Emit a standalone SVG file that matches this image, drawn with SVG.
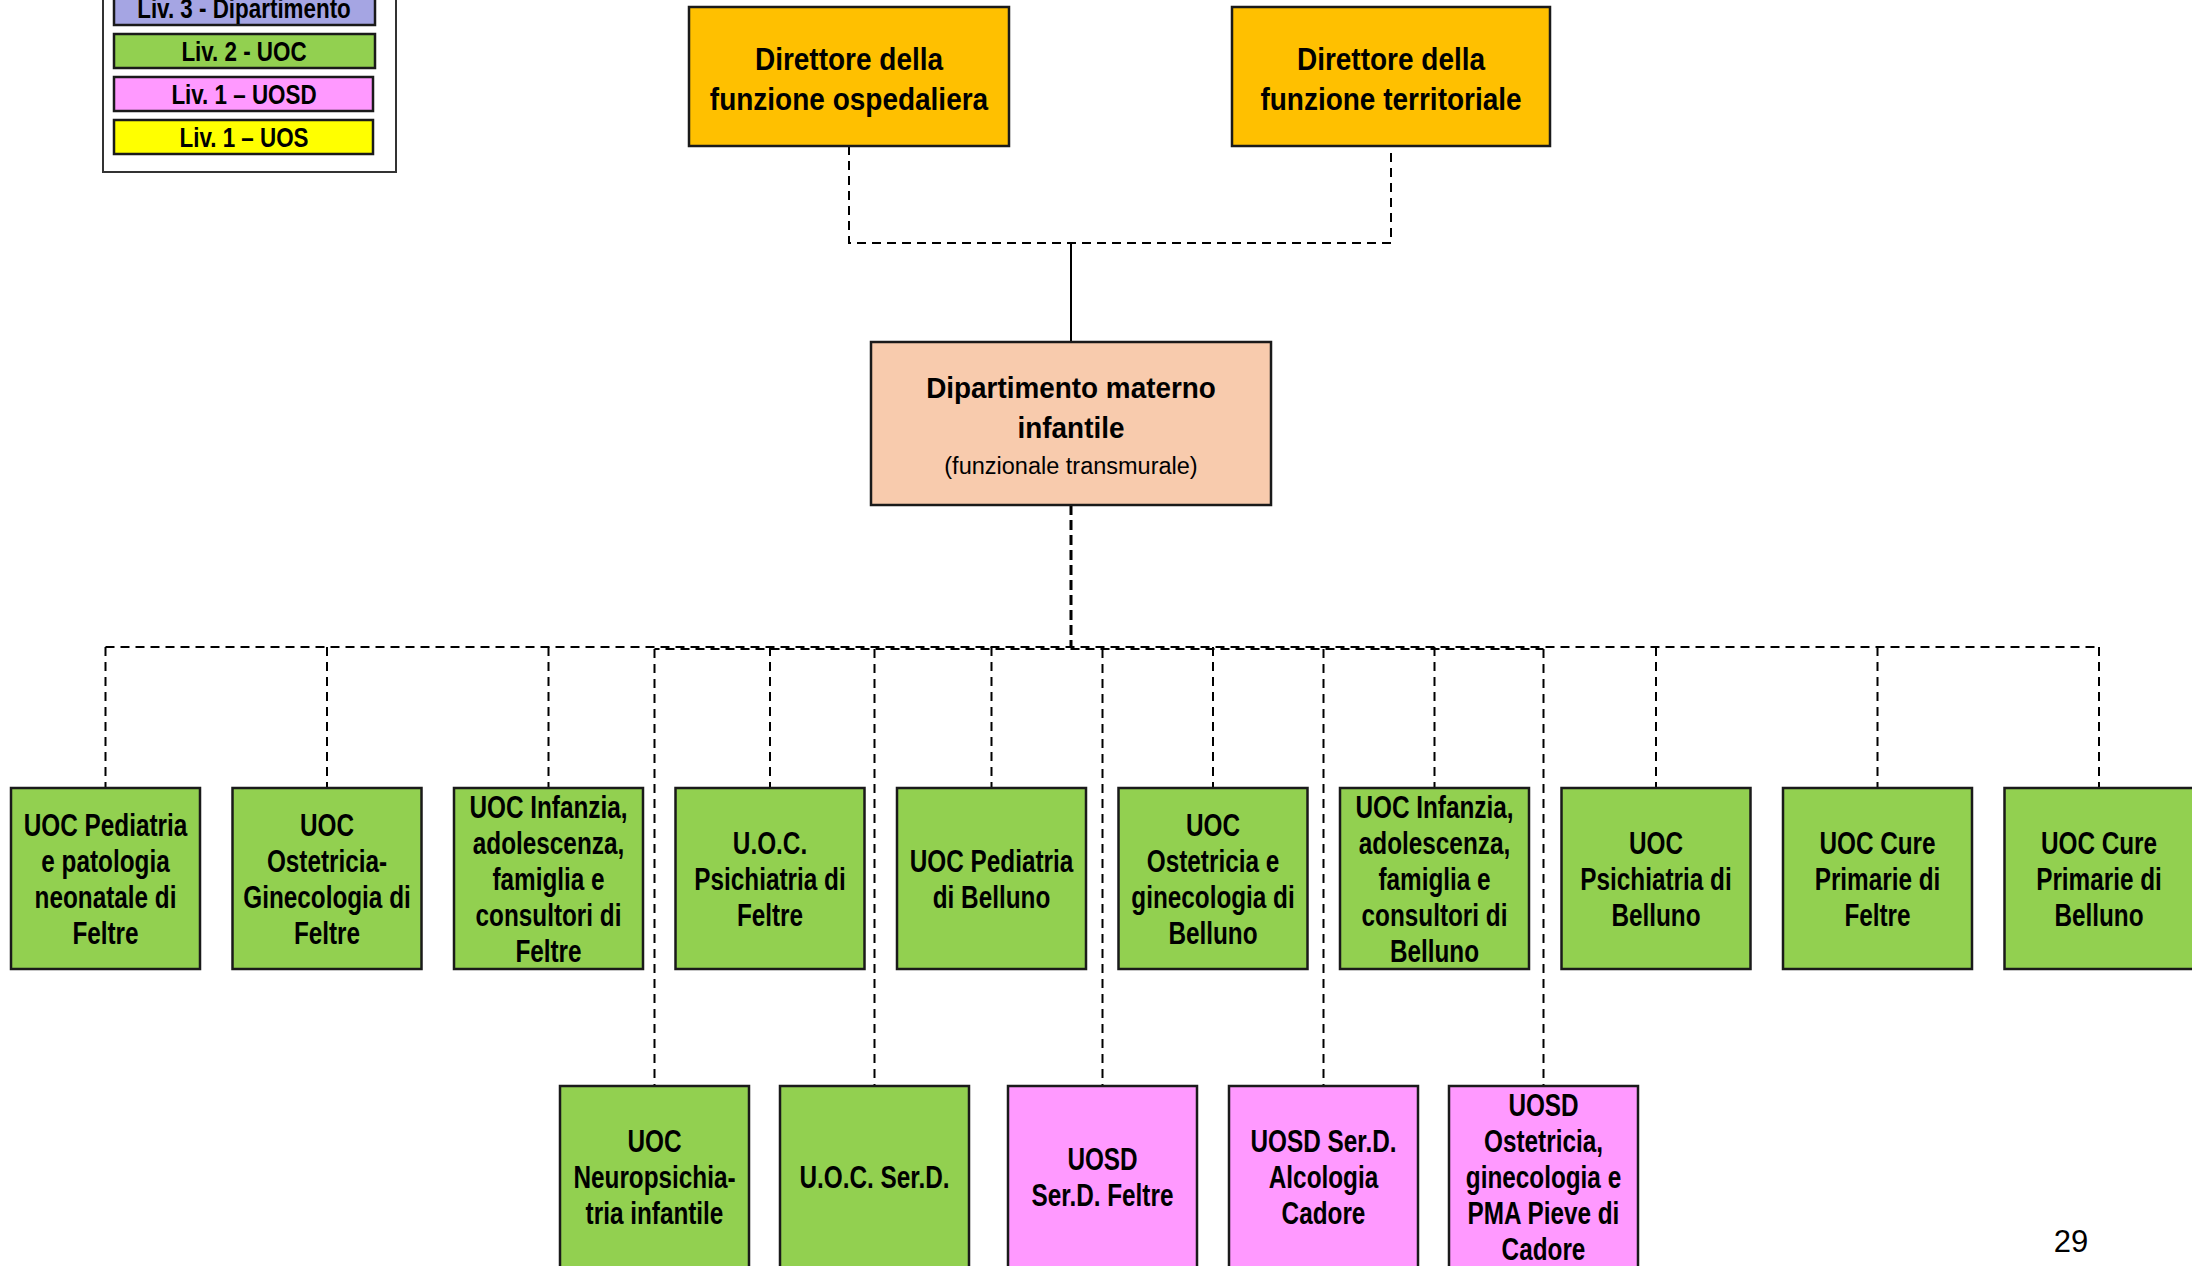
<svg xmlns="http://www.w3.org/2000/svg" width="2192" height="1266" viewBox="0 0 2192 1266">
<style>
.box{stroke:#1a1a1a;stroke-width:2.5}
.org{fill:#ffc000}
.dep{fill:#f8cbad}
.uoc{fill:#92d050}
.uosd{fill:#ff99ff}
.uos{fill:#ffff00}
.liv3{fill:#a5a5e3}
.t{font-family:"Liberation Sans",Arial,sans-serif;font-weight:bold;font-size:32px;fill:#000;text-anchor:middle}
.lg{font-family:"Liberation Sans",Arial,sans-serif;font-weight:bold;font-size:28px;fill:#000;text-anchor:middle}
.sub{font-family:"Liberation Sans",Arial,sans-serif;font-size:23.5px;fill:#000;text-anchor:middle}
.dash{fill:none;stroke:#000;stroke-width:2;stroke-dasharray:9 6}
.solid{fill:none;stroke:#000;stroke-width:2}
</style>
<rect width="2192" height="1266" fill="#fff"/>

<g id="legend">
<rect x="103" y="-30" width="293" height="202" fill="#fff" stroke="#333" stroke-width="2"/>
<rect class="box liv3" x="114" y="-9" width="261" height="34"/>
<text class="lg" transform="translate(244 0) scale(0.8 1)"><tspan x="0" y="18">Liv. 3 - Dipartimento</tspan></text>
<rect class="box uoc" x="114" y="34" width="261" height="34"/>
<text class="lg" transform="translate(244 0) scale(0.8 1)"><tspan x="0" y="61">Liv. 2 - UOC</tspan></text>
<rect class="box uosd" x="114" y="77" width="259" height="34"/>
<text class="lg" transform="translate(244 0) scale(0.8 1)"><tspan x="0" y="104">Liv. 1 – UOSD</tspan></text>
<rect class="box uos" x="114" y="120" width="259" height="34"/>
<text class="lg" transform="translate(244 0) scale(0.8 1)"><tspan x="0" y="147">Liv. 1 – UOS</tspan></text>
</g>

<g id="connectors">
<polyline class="dash" points="849,146 849,243 1391,243 1391,146"/>
<line class="solid" x1="1071" y1="243" x2="1071" y2="342"/>
<line class="dash" x1="1071" y1="505" x2="1071" y2="648" style="stroke-width:3;stroke-dasharray:10 5"/>
<line class="dash" x1="105.5" y1="647" x2="2099" y2="647"/>
<line class="dash" x1="654.5" y1="649" x2="1543.5" y2="649" style="stroke-dashoffset:4"/>
<line class="dash" x1="105.5" y1="647" x2="105.5" y2="788"/>
<line class="dash" x1="327" y1="647" x2="327" y2="788"/>
<line class="dash" x1="548.5" y1="647" x2="548.5" y2="788"/>
<line class="dash" x1="770" y1="647" x2="770" y2="788"/>
<line class="dash" x1="991.5" y1="647" x2="991.5" y2="788"/>
<line class="dash" x1="1213" y1="647" x2="1213" y2="788"/>
<line class="dash" x1="1434.5" y1="647" x2="1434.5" y2="788"/>
<line class="dash" x1="1656" y1="647" x2="1656" y2="788"/>
<line class="dash" x1="1877.5" y1="647" x2="1877.5" y2="788"/>
<line class="dash" x1="2099" y1="647" x2="2099" y2="788"/>
<line class="dash" x1="654.5" y1="649" x2="654.5" y2="1086"/>
<line class="dash" x1="874.5" y1="649" x2="874.5" y2="1086"/>
<line class="dash" x1="1102.5" y1="649" x2="1102.5" y2="1086"/>
<line class="dash" x1="1323.5" y1="649" x2="1323.5" y2="1086"/>
<line class="dash" x1="1543.5" y1="649" x2="1543.5" y2="1086"/>
</g>

<g id="dir-ospedaliera">
<rect class="box org" x="689" y="7" width="320" height="139"/>
<text class="t" transform="translate(849 0) scale(0.875 1)"><tspan x="0" y="70">Direttore della</tspan><tspan x="0" y="110">funzione ospedaliera</tspan></text>
</g>
<g id="dir-territoriale">
<rect class="box org" x="1232" y="7" width="318" height="139"/>
<text class="t" transform="translate(1391 0) scale(0.875 1)"><tspan x="0" y="70">Direttore della</tspan><tspan x="0" y="110">funzione territoriale</tspan></text>
</g>
<g id="dipartimento">
<rect class="box dep" x="871" y="342" width="400" height="163"/>
<text class="t" style="font-size:30px" transform="translate(1071 0) scale(0.93 1)"><tspan x="0" y="398">Dipartimento materno</tspan><tspan x="0" y="438">infantile</tspan></text>
<text class="sub" x="1071" y="474">(funzionale transmurale)</text>
</g>

<g id="u1">
<rect class="box uoc" x="11" y="788" width="189" height="181"/>
<text class="t" transform="translate(105.5 0) scale(0.76 1)"><tspan x="0" y="836">UOC Pediatria</tspan><tspan x="0" y="872">e patologia</tspan><tspan x="0" y="908">neonatale di</tspan><tspan x="0" y="944">Feltre</tspan></text>
</g>
<g id="u2">
<rect class="box uoc" x="232.5" y="788" width="189" height="181"/>
<text class="t" transform="translate(327 0) scale(0.76 1)"><tspan x="0" y="836">UOC</tspan><tspan x="0" y="872">Ostetricia-</tspan><tspan x="0" y="908">Ginecologia di</tspan><tspan x="0" y="944">Feltre</tspan></text>
</g>
<g id="u3">
<rect class="box uoc" x="454" y="788" width="189" height="181"/>
<text class="t" transform="translate(548.5 0) scale(0.76 1)"><tspan x="0" y="818">UOC Infanzia,</tspan><tspan x="0" y="854">adolescenza,</tspan><tspan x="0" y="890">famiglia e</tspan><tspan x="0" y="926">consultori di</tspan><tspan x="0" y="962">Feltre</tspan></text>
</g>
<g id="u4">
<rect class="box uoc" x="675.5" y="788" width="189" height="181"/>
<text class="t" transform="translate(770 0) scale(0.76 1)"><tspan x="0" y="854">U.O.C.</tspan><tspan x="0" y="890">Psichiatria di</tspan><tspan x="0" y="926">Feltre</tspan></text>
</g>
<g id="u5">
<rect class="box uoc" x="897" y="788" width="189" height="181"/>
<text class="t" transform="translate(991.5 0) scale(0.76 1)"><tspan x="0" y="872">UOC Pediatria</tspan><tspan x="0" y="908">di Belluno</tspan></text>
</g>
<g id="u6">
<rect class="box uoc" x="1118.5" y="788" width="189" height="181"/>
<text class="t" transform="translate(1213 0) scale(0.76 1)"><tspan x="0" y="836">UOC</tspan><tspan x="0" y="872">Ostetricia e</tspan><tspan x="0" y="908">ginecologia di</tspan><tspan x="0" y="944">Belluno</tspan></text>
</g>
<g id="u7">
<rect class="box uoc" x="1340" y="788" width="189" height="181"/>
<text class="t" transform="translate(1434.5 0) scale(0.76 1)"><tspan x="0" y="818">UOC Infanzia,</tspan><tspan x="0" y="854">adolescenza,</tspan><tspan x="0" y="890">famiglia e</tspan><tspan x="0" y="926">consultori di</tspan><tspan x="0" y="962">Belluno</tspan></text>
</g>
<g id="u8">
<rect class="box uoc" x="1561.5" y="788" width="189" height="181"/>
<text class="t" transform="translate(1656 0) scale(0.76 1)"><tspan x="0" y="854">UOC</tspan><tspan x="0" y="890">Psichiatria di</tspan><tspan x="0" y="926">Belluno</tspan></text>
</g>
<g id="u9">
<rect class="box uoc" x="1783" y="788" width="189" height="181"/>
<text class="t" transform="translate(1877.5 0) scale(0.76 1)"><tspan x="0" y="854">UOC Cure</tspan><tspan x="0" y="890">Primarie di</tspan><tspan x="0" y="926">Feltre</tspan></text>
</g>
<g id="u10">
<rect class="box uoc" x="2004.5" y="788" width="189" height="181"/>
<text class="t" transform="translate(2099 0) scale(0.76 1)"><tspan x="0" y="854">UOC Cure</tspan><tspan x="0" y="890">Primarie di</tspan><tspan x="0" y="926">Belluno</tspan></text>
</g>

<g id="l1">
<rect class="box uoc" x="560" y="1086" width="189" height="182"/>
<text class="t" transform="translate(654.5 0) scale(0.76 1)"><tspan x="0" y="1152">UOC</tspan><tspan x="0" y="1188">Neuropsichia-</tspan><tspan x="0" y="1224">tria infantile</tspan></text>
</g>
<g id="l2">
<rect class="box uoc" x="780" y="1086" width="189" height="182"/>
<text class="t" transform="translate(874.5 0) scale(0.76 1)"><tspan x="0" y="1188">U.O.C. Ser.D.</tspan></text>
</g>
<g id="l3">
<rect class="box uosd" x="1008" y="1086" width="189" height="182"/>
<text class="t" transform="translate(1102.5 0) scale(0.76 1)"><tspan x="0" y="1170">UOSD</tspan><tspan x="0" y="1206">Ser.D. Feltre</tspan></text>
</g>
<g id="l4">
<rect class="box uosd" x="1229" y="1086" width="189" height="182"/>
<text class="t" transform="translate(1323.5 0) scale(0.76 1)"><tspan x="0" y="1152">UOSD Ser.D.</tspan><tspan x="0" y="1188">Alcologia</tspan><tspan x="0" y="1224">Cadore</tspan></text>
</g>
<g id="l5">
<rect class="box uosd" x="1449" y="1086" width="189" height="182"/>
<text class="t" transform="translate(1543.5 0) scale(0.76 1)"><tspan x="0" y="1116">UOSD</tspan><tspan x="0" y="1152">Ostetricia,</tspan><tspan x="0" y="1188">ginecologia e</tspan><tspan x="0" y="1224">PMA Pieve di</tspan><tspan x="0" y="1260">Cadore</tspan></text>
</g>

<text x="2071" y="1252" style="font-family:'Liberation Sans',Arial,sans-serif;font-size:31px;text-anchor:middle;fill:#000">29</text>
</svg>
